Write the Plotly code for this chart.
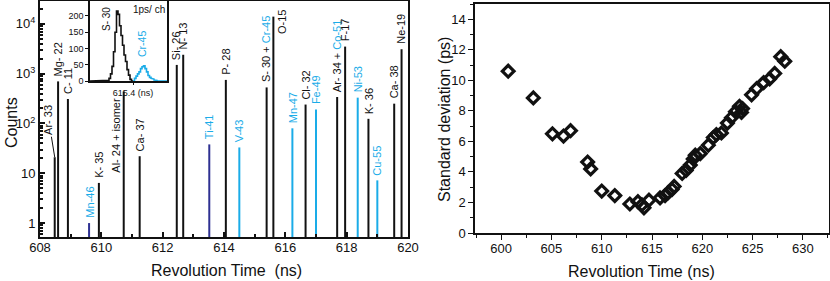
import plotly.graph_objects as go
import math

W, H = 830, 281

# ---------------- Left panel: revolution time spectrum ----------------
peak_labels = ["Ar- 33", "Mg- 22", "C- 11", "Mn-46", "K- 35", "Al- 24 + isomer", "Ca- 37",
               "Si- 26", "N- 13", "Ti-41", "P- 28", "V-43", "S- 30 + Cr-45", "O-15",
               "Mn-47", "Cl- 32", "Fe-49", "Ar- 34 + Co-51", "F-17", "Ni-53", "K- 36",
               "Cu-55", "Ca- 38", "Ne-19"]
peak_times = [608.48, 608.59, 608.91, 609.60, 609.92, 610.73, 611.25,
              612.46, 612.67, 613.52, 614.06, 614.50, 615.39, 615.61,
              616.23, 616.66, 617.00, 617.69, 617.95, 618.36, 618.71,
              619.00, 619.55, 619.79]
peak_counts = [21, 700, 310, 1.0, 6.4, 440, 22,
               1500, 2400, 38, 750, 33, 530, 14000,
               80, 240, 190, 340, 3500, 330, 124,
               7.2, 250, 3100]
# line colour group: k = black, c = light blue, n = dark blue
peak_group = ["k", "k", "k", "n", "k", "k", "k",
              "k", "k", "n", "k", "c", "k", "k",
              "c", "k", "c", "k", "k", "c", "k",
              "c", "k", "k"]
# label colour group
label_group = ["k", "k", "k", "c", "k", "k", "k",
               "k", "k", "c", "k", "c", "k", "k",
               "c", "k", "c", "k", "k", "c", "k",
               "c", "k", "k"]

BLACK = "#111111"
CYAN = "#1AACE8"
NAVY = "#2E3192"
colors = {"k": BLACK, "c": CYAN, "n": NAVY}

# ---------------- Inset: S-30 / Cr-45 histogram (1 ps per channel) ----------------
inset_s30_start = 615.380
inset_s30_counts = [0, 0, 0, 2, 8, 22, 45, 90, 150, 215, 205, 170, 140, 110, 80, 60, 35, 18, 5, 0]
inset_cr45_start = 615.400
inset_cr45_counts = [0, 8, 15, 22, 28, 38, 44, 47, 38, 28, 17, 11, 8, 6, 3, 2, 0, 0, 0, 0, 0, 0, 0]
inset_bin = 0.001

# ---------------- Right panel: standard deviation vs revolution time ----------------
sd_time = [600.7, 603.2, 605.1, 606.2, 606.9, 608.6, 608.9, 610.0, 611.3, 612.8,
           613.6, 614.0, 614.2, 614.7, 615.8, 616.3, 616.6, 617.0, 617.2, 618.0,
           618.4, 618.8, 619.1, 619.3, 619.8, 620.6, 621.1, 621.4, 621.9, 622.5,
           622.9, 623.3, 623.7, 623.9, 624.0, 624.9, 625.4, 626.1, 626.7, 627.2,
           627.8, 628.2]
sd_value = [10.6, 8.85, 6.5, 6.35, 6.7, 4.65, 4.2, 2.75, 2.45, 1.9,
            2.05, 1.85, 1.65, 2.15, 2.3, 2.45, 2.65, 2.85, 3.05, 3.9,
            4.1, 4.45, 4.85, 5.1, 5.2, 5.75, 6.25, 6.45, 6.55, 7.2,
            7.55, 7.95, 8.3, 7.9, 8.15, 9.05, 9.45, 9.85, 10.1, 10.45,
            11.55, 11.25]

fig = go.Figure()

# spectrum lines, one trace per colour
BASE = 0.3
for g in ["k", "c", "n"]:
    xs, ys = [], []
    for t, c, gg in zip(peak_times, peak_counts, peak_group):
        if gg == g:
            xs += [t, t, None]
            ys += [BASE, c, None]
    fig.add_trace(go.Scatter(x=xs, y=ys, mode="lines", line=dict(color=colors[g], width=2),
                             xaxis="x", yaxis="y", showlegend=False, hoverinfo="skip"))

# inset histograms
def step(start, counts):
    xs, ys = [], []
    for i, c in enumerate(counts):
        xs += [start + i * inset_bin, start + (i + 1) * inset_bin]
        ys += [c, c]
    return xs, ys

xs, ys = step(inset_s30_start - 0.009, [0] * 9 + inset_s30_counts)
fig.add_trace(go.Scatter(x=xs, y=ys, mode="lines", line=dict(color=BLACK, width=1.6),
                         xaxis="x3", yaxis="y3", showlegend=False, hoverinfo="skip"))
xs, ys = step(inset_cr45_start, inset_cr45_counts)
fig.add_trace(go.Scatter(x=xs, y=ys, mode="lines", line=dict(color=CYAN, width=1.6),
                         xaxis="x3", yaxis="y3", showlegend=False, hoverinfo="skip"))

# right panel scatter
fig.add_trace(go.Scatter(x=sd_time, y=sd_value, mode="markers",
                         marker=dict(symbol="diamond-open", size=9, color=BLACK,
                                     line=dict(width=3.2, color=BLACK)),
                         xaxis="x2", yaxis="y2", showlegend=False))

FONT = "Liberation Sans, Arial, sans-serif"
ann = []
lab_font = 11
for lab, t, c, lg in zip(peak_labels, peak_times, peak_counts, label_group):
    col = colors[lg]
    text = lab
    if lab == "S- 30 + Cr-45":
        text = "S- 30 + <span style='color:%s'>Cr-45</span>" % CYAN
    if lab == "Ar- 34 + Co-51":
        text = "Ar- 34 + <span style='color:%s'>Co-51</span>" % CYAN
    d = dict(x=t, y=math.log10(c), xref="x", yref="y", text=text, textangle=-90,
             showarrow=False, font=dict(size=lab_font, color=col, family=FONT),
             xanchor="center", yanchor="bottom", yshift=3)
    if lab == "Al- 24 + isomer":
        d.update(yanchor="top", xshift=-8, yshift=-4)
    elif lab == "O-15":
        d.update(yanchor="top", xshift=8, yshift=9)
    elif lab == "Ar- 33":
        d.update(showarrow=True, ax=-6, ay=-37, arrowhead=0, arrowwidth=1,
                 arrowcolor=BLACK, standoff=0, yanchor="middle", yshift=0)
    ann.append(d)


def txt(px, py, text, size, color=BLACK, angle=0):
    return dict(x=px / W, y=1 - py / H, xref="paper", yref="paper", text=text,
                textangle=angle, showarrow=False, xanchor="center", yanchor="middle",
                font=dict(size=size, color=color, family=FONT))


# inset texts
ann.append(txt(106, 19, "S- 30", 10, BLACK, -90))
ann.append(txt(142, 44, "Cr-45", 10.5, CYAN, -90))
ann.append(txt(149, 10, "1ps/ ch", 10))

# axis titles
ann.append(txt(226, 270, "Revolution Time  (ns)", 16))
ann.append(txt(11, 123, "Counts", 16, BLACK, -90))
ann.append(txt(641, 271, "Revolution Time (ns)", 16))
ann.append(txt(445, 120, "Standard deviation (ps)", 16, BLACK, -90))

tickfont = dict(size=13, color=BLACK, family=FONT)

minor_log = [k * 10 ** e for e in range(-1, 5) for k in range(2, 10)]

fig.update_layout(
    width=W, height=H,
    margin=dict(l=0, r=0, t=0, b=0, autoexpand=False),
    paper_bgcolor="white", plot_bgcolor="white",
    font=dict(family=FONT, color=BLACK),
    annotations=ann,
    xaxis=dict(domain=[40 / W, 408 / W], range=[608, 620], tickvals=[608, 610, 612, 614, 616, 618, 620],
               ticks="inside", ticklen=5, tickwidth=1.5, tickcolor=BLACK, ticklabelstandoff=-3,
               minor=dict(dtick=1, tick0=608, ticks="inside", ticklen=3, tickcolor=BLACK),
               showline=True, linewidth=2, linecolor=BLACK, mirror=True, showgrid=False,
               zeroline=False, tickfont=tickfont, anchor="y", automargin=False),
    yaxis=dict(domain=[1 - 237 / H, 1 - 1 / H], type="log", range=[-0.28, 4.46],
               tickvals=[1, 10, 100, 1000, 10000],
               ticktext=["1", "10", "10<sup>2</sup>", "10<sup>3</sup>", "10<sup>4</sup>"],
               ticks="inside", ticklen=5, tickwidth=1.5, tickcolor=BLACK,
               minor=dict(tickvals=minor_log, ticks="inside", ticklen=3, tickcolor=BLACK),
               showline=True, linewidth=2, linecolor=BLACK, mirror=True, showgrid=False,
               zeroline=False, tickfont=tickfont, anchor="x", automargin=False),
    xaxis2=dict(domain=[475 / W, 829 / W], range=[597.4, 632.6], dtick=5, tick0=600,
                ticks="outside", ticklen=5, tickwidth=1, tickcolor=BLACK, ticklabelstandoff=-2,
                minor=dict(dtick=2.5, tick0=600, ticks="outside", ticklen=3, tickcolor=BLACK),
                showline=True, linewidth=1.5, linecolor=BLACK, mirror=True, showgrid=False,
                zeroline=False, tickfont=tickfont, anchor="y2", automargin=False),
    yaxis2=dict(domain=[1 - 233 / H, 1 - 4 / H], range=[0, 15], dtick=2, tick0=0,
                ticks="outside", ticklen=5, tickwidth=1, tickcolor=BLACK,
                minor=dict(dtick=1, tick0=0, ticks="outside", ticklen=3, tickcolor=BLACK),
                showline=True, linewidth=1.5, linecolor=BLACK, mirror=True, showgrid=False,
                zeroline=False, tickfont=tickfont, anchor="x2", automargin=False),
    xaxis3=dict(domain=[90 / W, 167 / W], range=[615.37133, 615.42267],
                tickvals=[615.4], ticktext=["615.4 (ns)"], ticks="outside", ticklen=2,
                tickcolor=BLACK, showline=True, linewidth=1.5, linecolor=BLACK, mirror=True,
                showgrid=False, zeroline=False, tickfont=dict(size=9, color=BLACK, family=FONT),
                anchor="y3", automargin=False),
    yaxis3=dict(domain=[1 - 81 / H, 1 - 1 / H], range=[0, 246], tickvals=[0, 50, 100, 150, 200],
                ticks="outside", ticklen=3, tickcolor=BLACK, showline=True, linewidth=1.5,
                linecolor=BLACK, mirror=True, showgrid=False, zeroline=False,
                tickfont=dict(size=9, color=BLACK, family=FONT), anchor="x3", automargin=False),
)

fig.write_html("out.html", config={"displayModeBar": False},
               post_script="document.body.style.margin='0';document.body.style.padding='0';"
                           "document.documentElement.style.overflow='hidden';")
